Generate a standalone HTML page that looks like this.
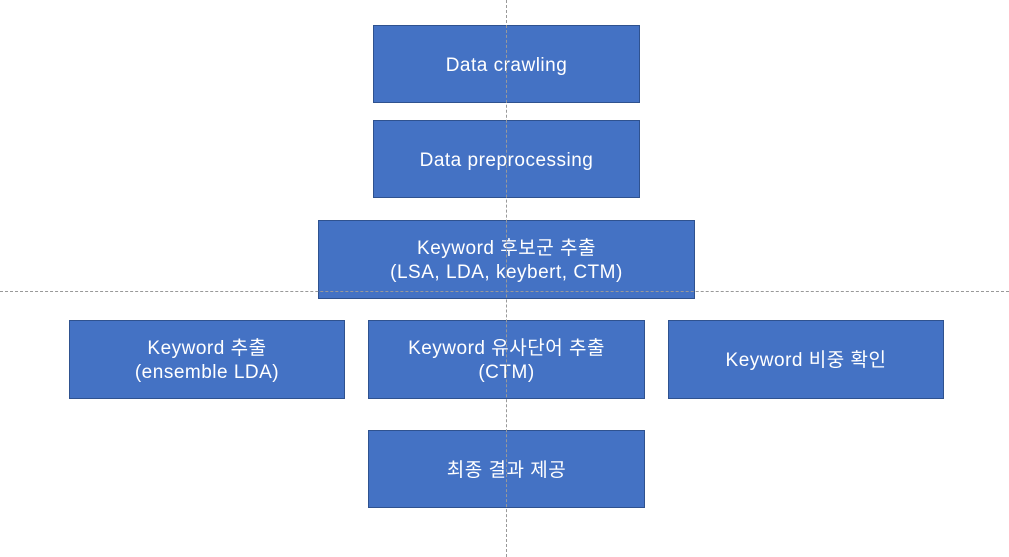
<!DOCTYPE html>
<html><head><meta charset="utf-8"><style>
body{margin:0;width:1009px;height:557px;background:#fff;position:relative;overflow:hidden;font-family:"Liberation Sans","Noto Sans CJK KR",sans-serif;}
.b{position:absolute;box-sizing:border-box;background:#4472C4;border:1.5px solid #2F528F;color:#fff;font-size:19px;letter-spacing:0.5px;line-height:24px;display:flex;align-items:center;justify-content:center;text-align:center;padding-top:3px;}
.v{position:absolute;left:506px;top:0;height:557px;border-left:1px dashed #999;}
.h{position:absolute;top:291px;left:0;width:1009px;border-top:1px dashed #999;}
</style></head><body>
<div class="b" style="left:373px;top:25px;width:267px;height:78px">Data crawling</div>
<div class="b" style="left:373px;top:120px;width:267px;height:78px">Data preprocessing</div>
<div class="b" style="left:318px;top:220px;width:377px;height:79px">Keyword 후보군 추출<br>(LSA, LDA, keybert, CTM)</div>
<div class="b" style="left:69px;top:320px;width:276px;height:79px">Keyword 추출<br>(ensemble LDA)</div>
<div class="b" style="left:368px;top:320px;width:277px;height:79px">Keyword 유사단어 추출<br>(CTM)</div>
<div class="b" style="left:668px;top:320px;width:276px;height:79px">Keyword 비중 확인</div>
<div class="b" style="left:368px;top:430px;width:277px;height:78px">최종 결과 제공</div>
<div class="v"></div><div class="h"></div>
</body></html>
